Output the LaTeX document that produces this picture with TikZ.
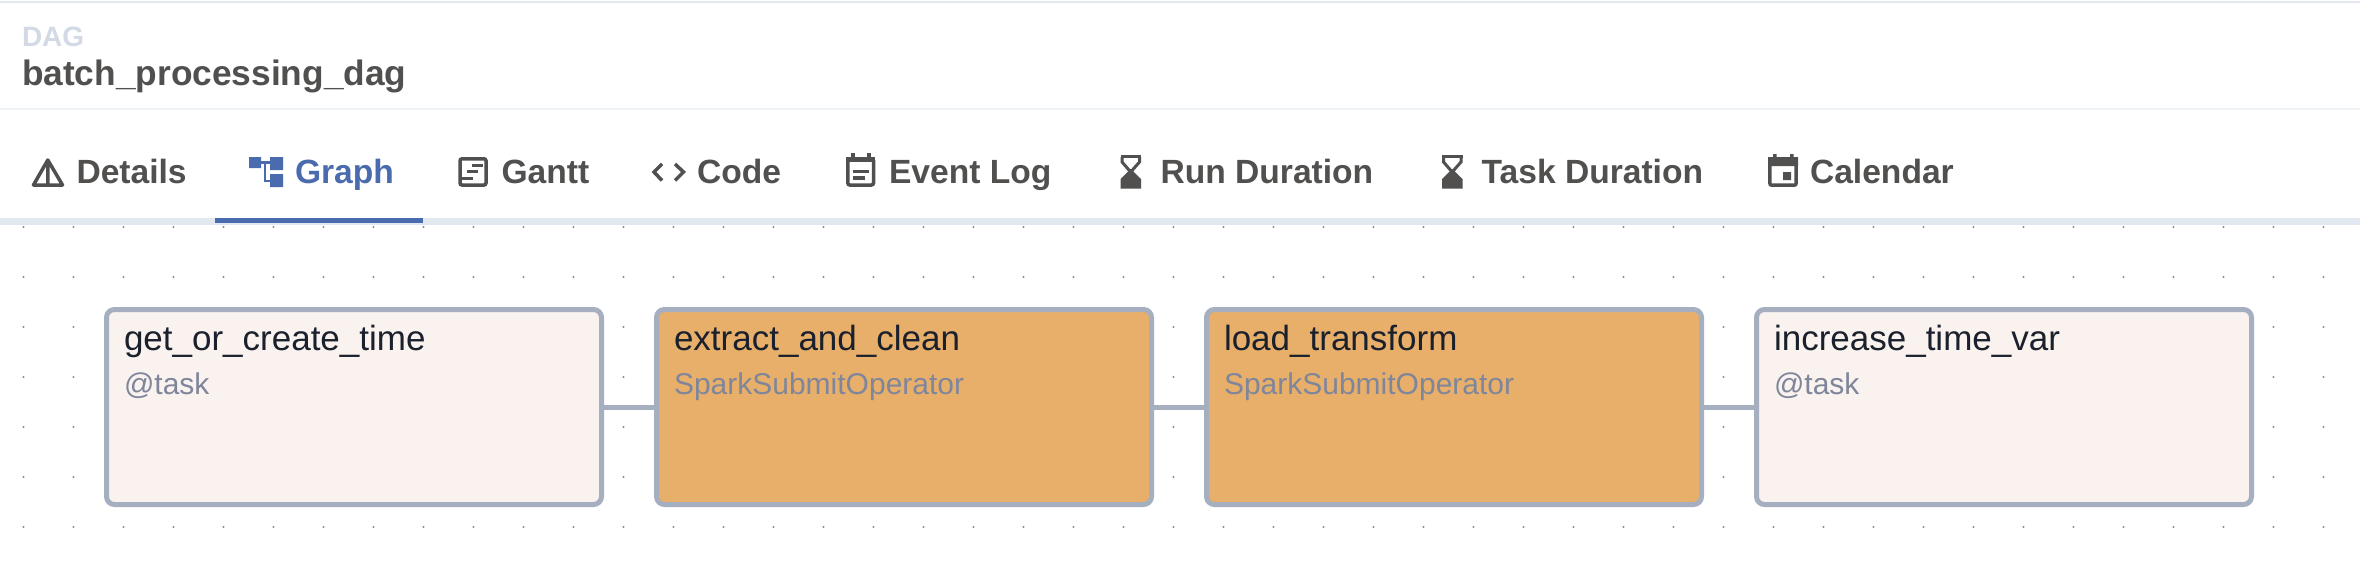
\documentclass[tikz,border=0pt]{standalone}
\usepackage{xcolor}
\usepackage{fontspec}
\setmainfont{Liberation Sans}
\usepackage{tikz}
\definecolor{bordergray}{HTML}{A5AFC0}
\definecolor{barline}{HTML}{E2E8F0}
\definecolor{headline}{HTML}{EDF2F7}
\definecolor{tabtext}{HTML}{51504F}
\definecolor{tabblue}{HTML}{4A6BAE}
\definecolor{daggray}{HTML}{D3DAE5}
\definecolor{pyfill}{HTML}{FAF2EF}
\definecolor{sparkfill}{HTML}{E8AF6A}
\definecolor{opgray}{HTML}{7F869B}
\definecolor{namedark}{HTML}{1A202C}
\tikzset{
  taskbox/.style={draw=bordergray, line width=5pt, rounded corners=8pt,
    minimum width=495pt, minimum height=195pt, inner sep=0pt},
  edgeline/.style={draw=bordergray, line width=5pt},
  labeltext/.style={anchor=base west, inner sep=0pt, outer sep=0pt},
  tasktitle/.style={labeltext, text=namedark, font=\fontsize{35}{42}\selectfont},
  taskop/.style={labeltext, text=opgray, font=\fontsize{30}{36}\selectfont},
  tabtitle/.style={labeltext, text=tabtext, font=\fontsize{33.6}{40}\selectfont\bfseries},
  iconline/.style={draw=tabtext, line width=3.5pt}
}
\begin{document}
\begin{tikzpicture}[x=1pt,y=-1pt]
\useasboundingbox (0,0) rectangle (2360,566);
\fill[white] (0,0) rectangle (2360,566);
\fill[barline] (0,0.8) rectangle (2360,2.8);
\fill[headline] (0,107.8) rectangle (2360,109.8);
\fill[barline] (0,218) rectangle (2360,224.8);
\fill[tabblue] (215,218) rectangle (423,223);
\foreach \y in {227,277,...,527} {
  \foreach \x in {23.5,73.5,...,2330} {
    \fill[gray!90] (\x,\y) circle (1.2);
  }
}
\node[labeltext, text=daggray, font=\fontsize{28}{32}\selectfont\bfseries] (dagcaption) at (22,46.7) {DAG};
\node[labeltext, text=tabtext, font=\fontsize{35.3}{42}\selectfont\bfseries] (dagname) at (22,85) {batch\_processing\_dag};
\foreach \name/\x/\txt in {details/76.5/Details, gantt/501.5/Gantt, code/697/Code,
  eventlog/889/Event Log, runduration/1160.5/Run Duration, taskduration/1481.6/Task Duration, calendar/1810/Calendar} {
  \node[tabtitle] (\name) at (\x,183) {\txt};
}
\node[tabtitle, text=tabblue] (graph) at (295,183) {Graph};
% icons
\draw[iconline, line join=round] (33.5,185) -- (47.8,160) -- (62.5,185) -- cycle (47.8,160) -- (47.8,185);
\fill[tabblue] (249,157) rectangle (261,168) (270,157) rectangle (283,170) (270,174) rectangle (283,187);
\draw[tabblue, line width=2.5pt] (261,162.7) -- (270,162.7) (265,162.7) -- (265,181) -- (270,181);
\draw[iconline, rounded corners=2pt] (460,158.8) rectangle (486,185);
\draw[iconline, line width=3pt] (472,165) -- (483,165) (467,171) -- (478,171) (462,178) -- (473,178);
\draw[iconline] (662,164) -- (654,172) -- (662,180.5) (675,164) -- (683.5,172) -- (675,180.5);
\draw[iconline, rounded corners=2pt] (847.8,158.8) rectangle (873.5,185);
\draw[iconline] (853,153) -- (853,158) (869,153) -- (869,158);
\fill[tabtext] (846,157) rectangle (875,162);
\draw[iconline] (852.7,171.5) -- (869,171.5) (852.7,178) -- (865,178);
\foreach \x in {1120.5,1442} {
  \fill[tabtext] (\x,155) rectangle (\x+20.5,158);
  \draw[tabtext, line width=3pt] (\x+1.5,157) -- (\x+1.5,162) -- (\x+10.2,172) -- (\x+19,162) -- (\x+19,157);
  \fill[tabtext] (\x,188.5) -- (\x,179) -- (\x+10.2,169) -- (\x+20.5,179) -- (\x+20.5,188.5) -- cycle;
}
\draw[iconline, rounded corners=2pt] (1769.8,159) rectangle (1796.2,185.2);
\fill[tabtext] (1768,157) rectangle (1798,166) (1773,154) rectangle (1776.5,158) (1790,154) rectangle (1793.5,158) (1783,172) rectangle (1791,180);
% tasks
\foreach \name/\x/\boxfill/\title/\op in {gettime/354/pyfill/get\_or\_create\_time/@task,
  extract/904/sparkfill/extract\_and\_clean/SparkSubmitOperator,
  loadtransform/1454/sparkfill/load\_transform/SparkSubmitOperator,
  increasetime/2004/pyfill/increase\_time\_var/@task} {
  \node[taskbox, fill=\boxfill] (\name) at (\x,407) {};
  \node[tasktitle] (\name title) at (\x-230,350) {\title};
  \node[taskop] (\name op) at (\x-230,394) {\op};
}
\draw[edgeline] (gettime) -- (extract);
\draw[edgeline] (extract) -- (loadtransform);
\draw[edgeline] (loadtransform) -- (increasetime);
\end{tikzpicture}
\end{document}
